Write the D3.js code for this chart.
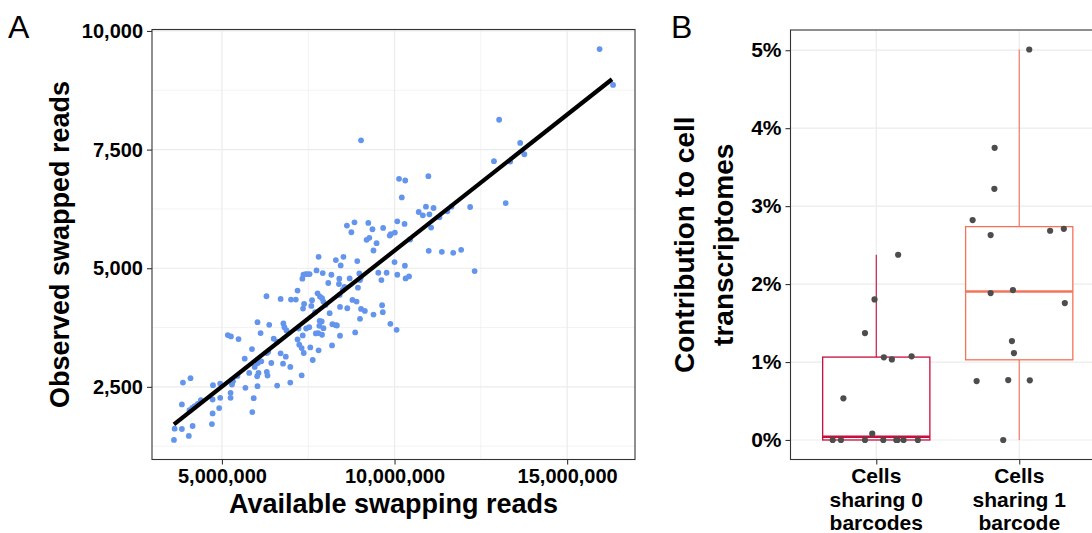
<!DOCTYPE html>
<html>
<head>
<meta charset="utf-8">
<script src="https://cdn.jsdelivr.net/npm/d3@7"></script>
<style>
  body { margin: 0; background: #fff; }
  text { font-family: "Liberation Sans", Arial, sans-serif; }
</style>
</head>
<body>
<svg id="chart" width="1092" height="533"></svg>
<script>
// ---- Panel A data: available swapping reads (millions) vs observed swapped reads
const availableReads = [
  15.94,16.33,13.03,9.03,13.64,13.76,12.88,13.35,13.22,10.13,
  10.31,10.98,10.21,12.19,11.65,11.53,11.30,10.91,11.13,10.70,
  10.82,11.01,11.06,10.08,10.29,10.01,9.89,9.86,9.67,10.45,
  10.99,11.37,11.70,11.93,12.32,10.00,10.30,10.08,10.32,10.42,
  9.24,9.36,8.84,8.62,8.75,9.19,9.27,9.48,9.39,9.53,
  9.77,9.62,8.92,8.52,8.30,8.44,7.80,8.98,9.02,9.00,
  8.94,8.70,8.40,8.39,8.55,8.50,8.41,8.17,8.08,7.92,
  7.74,7.54,7.48,7.42,7.36,7.33,7.19,7.77,7.84,7.90,
  7.94,8.00,7.61,7.59,7.38,7.35,7.14,7.00,6.70,6.29,
  7.70,8.12,8.42,8.63,8.78,8.90,9.03,9.14,9.39,9.64,
  9.66,9.00,8.86,9.88,10.06,8.20,8.30,8.33,8.42,8.19,
  7.83,7.89,7.82,7.94,7.79,7.90,7.72,7.53,7.44,7.22,
  7.34,7.19,7.24,7.31,7.37,7.56,7.80,7.63,6.78,6.81,
  6.87,6.37,6.03,6.12,6.50,6.60,5.17,5.26,5.48,5.87,
  5.66,6.34,6.30,6.43,6.14,6.04,6.70,6.85,6.77,6.98,
  5.95,5.79,6.06,6.02,6.30,6.32,5.45,5.32,5.29,4.95,
  4.74,3.87,4.09,6.60,6.98,7.31,6.03,5.68,5.92,5.88,
  5.25,5.25,4.95,4.92,4.73,4.73,4.71,4.39,4.30,4.21,
  4.14,4.06,3.84,3.63,3.84,4.15,4.04,3.61
];
const observedReads = [
  9619,8863,8129,7696,7640,7402,7255,7248,6374,6884,
  6849,6940,6493,6290,6297,6199,6073,6297,6269,6185,
  6115,6136,5856,5989,5933,5751,5716,5689,5849,5605,
  5367,5346,5325,5388,4940,5129,5052,4863,4786,4828,
  5954,5821,5968,5898,5758,5598,5640,5528,5374,4905,
  4905,4751,5150,5241,5171,5059,5241,4891,4800,4751,
  4591,4786,4779,4668,4605,4542,4437,4863,4689,4898,
  4954,4877,4877,4877,4863,4779,4528,4472,4402,4367,
  4297,4227,4325,4206,4248,4150,4339,4339,4353,4409,
  4073,4052,4185,4157,4332,4297,4143,4101,4024,4220,
  4073,3933,3647,3828,3702,3821,3800,3793,3577,3374,
  3891,3877,3786,3737,3633,3598,3626,3758,3730,3730,
  3584,3500,3388,3318,3213,3332,3269,3066,3835,3758,
  3689,3807,3863,3633,3514,3451,3591,3563,3507,3297,
  3094,3241,3213,3003,3038,3003,3206,3136,2989,2919,
  2919,2793,2793,2723,2814,2737,2730,2619,2549,2570,
  2535,2591,2682,2528,2591,2744,2514,2479,2262,1968,
  2374,2269,2269,2052,2234,1940,1716,2220,2143,2094,
  2059,2010,2129,1619,1612,1675,1465,1381
];
// linear fit line end points
const fitX = [3.61, 16.30];
const fitY = [1710, 8982];

const xTicksA = [5, 10, 15];
const xMinorA = [7.5, 12.5];
const yTicksA = [2500, 5000, 7500, 10000];
const yMinorA = [1250, 3750, 6250, 8750];

// ---- Panel B data: contribution to cell transcriptomes (%)
const groupLabels = [["Cells", "sharing 0", "barcodes"], ["Cells", "sharing 1", "barcode"]];
const group0Values = [0,0,0,0,0,0,0,0,0.081,0.534,1.06,1.034,1.073,1.372,1.803,2.376];
const group0Jitter = [-0.305,-0.247,-0.079,0.049,0.14,0.149,0.191,0.291,-0.028,-0.23,0.053,0.109,0.247,-0.079,-0.012,0.153];
const group1Values = [5.009,3.748,3.222,2.821,2.628,2.684,2.709,1.885,1.923,1.756,1.269,1.115,0.756,0.769,0.765,0];
const group1Jitter = [0.07,-0.172,-0.174,-0.326,-0.2,0.216,0.312,-0.2,-0.044,0.319,-0.051,-0.037,-0.298,-0.077,0.074,-0.112];
const groupColors = ["#C80E3C", "#F4735A"];
const yTicksB = [0, 1, 2, 3, 4, 5];

const svg = d3.select("#chart");
const gridColor = "#EBEBEB";
const borderColor = "#333333";

function expand(ext, f = 0.05) {
  const d = (ext[1] - ext[0]) * f;
  return [ext[0] - d, ext[1] + d];
}

// ================= Panel A =================
const A = { left: 152, top: 29.5, right: 635, bottom: 459.5 };
const xA = d3.scaleLinear().domain(expand(d3.extent(availableReads))).range([A.left, A.right]);
const yA = d3.scaleLinear().domain(expand(d3.extent(observedReads))).range([A.bottom, A.top]);

const gA = svg.append("g");
// minor grid
gA.selectAll(".vminor").data(xMinorA).join("line")
  .attr("x1", d => xA(d)).attr("x2", d => xA(d)).attr("y1", A.top).attr("y2", A.bottom)
  .attr("stroke", gridColor).attr("stroke-width", 0.6);
gA.selectAll(".hminor").data(yMinorA).join("line")
  .attr("y1", d => yA(d)).attr("y2", d => yA(d)).attr("x1", A.left).attr("x2", A.right)
  .attr("stroke", gridColor).attr("stroke-width", 0.6);
// major grid
gA.selectAll(".vmajor").data(xTicksA).join("line")
  .attr("x1", d => xA(d)).attr("x2", d => xA(d)).attr("y1", A.top).attr("y2", A.bottom)
  .attr("stroke", gridColor).attr("stroke-width", 1.2);
gA.selectAll(".hmajor").data(yTicksA).join("line")
  .attr("y1", d => yA(d)).attr("y2", d => yA(d)).attr("x1", A.left).attr("x2", A.right)
  .attr("stroke", gridColor).attr("stroke-width", 1.2);

// points
gA.selectAll("circle").data(availableReads).join("circle")
  .attr("cx", d => xA(d)).attr("cy", (d, i) => yA(observedReads[i]))
  .attr("r", 2.9).attr("fill", "#6495ED");

// fit line
gA.append("line")
  .attr("x1", xA(fitX[0])).attr("y1", yA(fitY[0]))
  .attr("x2", xA(fitX[1])).attr("y2", yA(fitY[1]))
  .attr("stroke", "#000").attr("stroke-width", 4.2);

// border
gA.append("rect").attr("x", A.left).attr("y", A.top)
  .attr("width", A.right - A.left).attr("height", A.bottom - A.top)
  .attr("fill", "none").attr("stroke", borderColor).attr("stroke-width", 1.1);

function styleAxis(g, size) {
  g.select(".domain").remove();
  g.selectAll(".tick line").attr("stroke", borderColor).attr("stroke-width", 1.1);
  g.selectAll(".tick text").attr("fill", "#000").attr("font-size", size)
    .attr("font-weight", "bold").attr("font-family", "Liberation Sans, Arial, sans-serif");
}

const fmtComma = d3.format(",");
svg.append("g").attr("transform", `translate(0,${A.bottom})`)
  .call(d3.axisBottom(xA).tickValues(xTicksA).tickSize(5).tickPadding(4)
    .tickFormat(d => fmtComma(d * 1e6)))
  .call(g => styleAxis(g, 20));
svg.append("g").attr("transform", `translate(${A.left},0)`)
  .call(d3.axisLeft(yA).tickValues(yTicksA).tickSize(5).tickPadding(4).tickFormat(fmtComma))
  .call(g => styleAxis(g, 20));

svg.append("text").attr("x", (A.left + A.right) / 2).attr("y", 513)
  .attr("text-anchor", "middle").attr("font-size", 27).attr("font-weight", "bold")
  .text("Available swapping reads");
svg.append("text").attr("transform", `translate(69,${(A.top + A.bottom) / 2}) rotate(-90)`)
  .attr("text-anchor", "middle").attr("font-size", 27).attr("font-weight", "bold")
  .text("Observed swapped reads");
svg.append("text").attr("x", 8).attr("y", 38).attr("font-size", 32)
  .attr("font-weight", 300).text("A");

// ================= Panel B =================
const B = { left: 790.5, top: 30, right: 1105, bottom: 459.5 };
const xB = d3.scaleLinear().domain([0.4, 2.6]).range([B.left, B.right]);
const allB = group0Values.concat(group1Values);
const yB = d3.scaleLinear().domain(expand(d3.extent(allB))).range([B.bottom, B.top]);

const gB = svg.append("g");
gB.selectAll(".hmajor").data(yTicksB).join("line")
  .attr("y1", d => yB(d)).attr("y2", d => yB(d)).attr("x1", B.left).attr("x2", B.right)
  .attr("stroke", gridColor).attr("stroke-width", 1.2);
gB.selectAll(".vmajor").data([1, 2]).join("line")
  .attr("x1", d => xB(d)).attr("x2", d => xB(d)).attr("y1", B.top).attr("y2", B.bottom)
  .attr("stroke", gridColor).attr("stroke-width", 1.2);

function boxStats(vals) {
  const s = vals.slice().sort(d3.ascending);
  const q1 = d3.quantile(s, 0.25), med = d3.quantile(s, 0.5), q3 = d3.quantile(s, 0.75);
  const iqr = q3 - q1;
  const lo = d3.min(s.filter(v => v >= q1 - 1.5 * iqr));
  const hi = d3.max(s.filter(v => v <= q3 + 1.5 * iqr));
  return { q1, med, q3, lo, hi };
}

const groups = [
  { values: group0Values, jitter: group0Jitter },
  { values: group1Values, jitter: group1Jitter }
];
const boxW = 0.75;
groups.forEach((grp, gi) => {
  const pos = gi + 1;
  const st = boxStats(grp.values);
  const col = groupColors[gi];
  // whiskers
  gB.append("line").attr("x1", xB(pos)).attr("x2", xB(pos))
    .attr("y1", yB(st.q3)).attr("y2", yB(st.hi)).attr("stroke", col).attr("stroke-width", 1.1);
  gB.append("line").attr("x1", xB(pos)).attr("x2", xB(pos))
    .attr("y1", yB(st.q1)).attr("y2", yB(st.lo)).attr("stroke", col).attr("stroke-width", 1.1);
  // box
  gB.append("rect").attr("x", xB(pos - boxW / 2)).attr("y", yB(st.q3))
    .attr("width", xB(pos + boxW / 2) - xB(pos - boxW / 2)).attr("height", yB(st.q1) - yB(st.q3))
    .attr("fill", "#fff").attr("stroke", col).attr("stroke-width", 1.3);
  gB.append("line").attr("x1", xB(pos - boxW / 2)).attr("x2", xB(pos + boxW / 2))
    .attr("y1", yB(st.med)).attr("y2", yB(st.med)).attr("stroke", col).attr("stroke-width", 2.4);
});
groups.forEach((grp, gi) => {
  gB.selectAll(".pt" + gi).data(grp.values).join("circle")
    .attr("cx", (d, i) => xB(gi + 1 + grp.jitter[i])).attr("cy", d => yB(d))
    .attr("r", 3.1).attr("fill", "#4D4D4D");
});

gB.append("rect").attr("x", B.left).attr("y", B.top)
  .attr("width", B.right - B.left).attr("height", B.bottom - B.top)
  .attr("fill", "none").attr("stroke", borderColor).attr("stroke-width", 1.1);

svg.append("g").attr("transform", `translate(${B.left},0)`)
  .call(d3.axisLeft(yB).tickValues(yTicksB).tickSize(5).tickPadding(4).tickFormat(d => d + "%"))
  .call(g => styleAxis(g, 21));
svg.append("g").attr("transform", `translate(0,${B.bottom})`)
  .call(d3.axisBottom(xB).tickValues([1, 2]).tickSize(5).tickFormat(""))
  .call(g => styleAxis(g, 21));

groupLabels.forEach((lines, gi) => {
  const t = svg.append("text").attr("text-anchor", "middle").attr("font-size", 21)
    .attr("font-weight", "bold");
  lines.forEach((ln, li) => {
    t.append("tspan").attr("x", xB(gi + 1)).attr("y", 483 + li * 23.5).text(ln);
  });
});

const midB = (B.top + B.bottom) / 2;
svg.append("text").attr("transform", `translate(694,${midB}) rotate(-90)`)
  .attr("text-anchor", "middle").attr("font-size", 28).attr("font-weight", "bold")
  .text("Contribution to cell");
svg.append("text").attr("transform", `translate(733,${midB}) rotate(-90)`)
  .attr("text-anchor", "middle").attr("font-size", 28).attr("font-weight", "bold")
  .text("transcriptomes");
svg.append("text").attr("x", 671).attr("y", 38).attr("font-size", 32)
  .attr("font-weight", 300).text("B");
</script>
</body>
</html>
